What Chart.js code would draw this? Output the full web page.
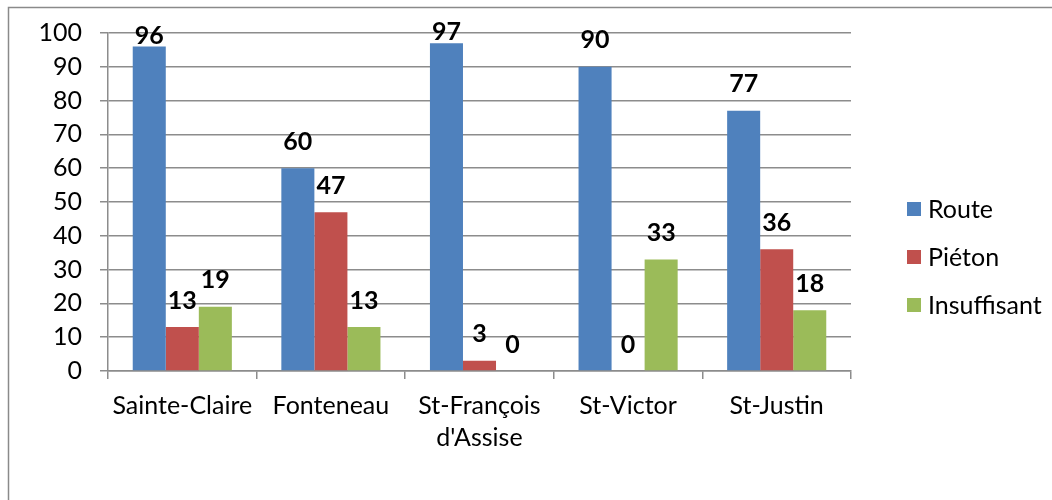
<!DOCTYPE html>
<html>
<head>
<meta charset="utf-8">
<script src="https://cdn.jsdelivr.net/npm/chart.js@4.4.0/dist/chart.umd.min.js"></script>
<style>
  html, body { margin: 0; padding: 0; background: #fff; }
  #wrap { width: 1052px; height: 500px; position: relative; }
</style>
</head>
<body>
<div id="wrap"><canvas id="graph1"></canvas></div>
<script>
// data
var categories = ["Sainte-Claire", "Fonteneau", ["St-François", "d'Assise"], "St-Victor", "St-Justin"];
var seriesNames = ["Route", "Piéton", "Insuffisant"];
var route = [96, 60, 97, 90, 77];
var pieton = [13, 47, 3, 0, 36];
var insuffisant = [19, 13, 0, 33, 18];
var colors = ['#4F81BD', '#C0504D', '#9BBB59'];

var FONT = 'Lato, "Liberation Sans", sans-serif';

// outer frame + value labels + legend
var extras = {
	id: 'extras',
	beforeDraw: function(chart) {
		var ctx = chart.ctx;
		ctx.save();
		ctx.strokeStyle = '#8a8a8a';
		ctx.lineWidth = 1.5;
		ctx.strokeRect(8.5, 7.5, 1200, 700);
		ctx.restore();
	},
	afterDatasetsDraw: function(chart) {
		var ctx = chart.ctx;
		var top = chart.chartArea.top;
		ctx.save();
		ctx.font = 'bold 25px ' + FONT;
		ctx.fillStyle = '#000';
		ctx.textAlign = 'center';
		ctx.textBaseline = 'middle';
		chart.data.datasets.forEach(function(ds, i) {
			chart.getDatasetMeta(i).data.forEach(function(bar, j) {
				var y = bar.y - 26.5;
				if (y < top) y = bar.y - 11;
				ctx.fillText(ds.data[j], bar.x, y);
			});
		});

		// legend
		ctx.font = '25px ' + FONT;
		ctx.textAlign = 'left';
		chart.data.datasets.forEach(function(ds, i) {
			var cy = 209 + i * 48;
			ctx.fillStyle = ds.backgroundColor;
			ctx.fillRect(907, cy - 7, 14, 14);
			ctx.fillStyle = '#000';
			ctx.fillText(ds.label, 928, cy + 1);
		});
		ctx.restore();
	}
};

var ctx = document.getElementById('graph1').getContext('2d');
var chart = new Chart(ctx, {
	type: 'bar',
	data: {
		labels: categories,
		datasets: [
			{ label: seriesNames[0], data: route, backgroundColor: colors[0] },
			{ label: seriesNames[1], data: pieton, backgroundColor: colors[1] },
			{ label: seriesNames[2], data: insuffisant, backgroundColor: colors[2] }
		]
	},
	options: {
		responsive: true,
		maintainAspectRatio: false,
		animation: false,
		layout: { padding: { top: 31, right: 201, bottom: 0, left: 0 } },
		datasets: { bar: { categoryPercentage: 0.667, barPercentage: 1 } },
		plugins: {
			legend: { display: false },
			tooltip: { enabled: false }
		},
		scales: {
			y: {
				min: 0,
				max: 100,
				ticks: { stepSize: 10, color: '#000', padding: 18, font: { family: FONT, size: 25 } },
				grid: { color: '#8c8c8c', lineWidth: 1.5, tickLength: 8 },
				border: { color: '#8c8c8c', width: 1.5 },
				afterFit: function(scale) { scale.width = 108; }
			},
			x: {
				ticks: { color: '#000', padding: 11, maxRotation: 0, font: { family: FONT, size: 25, lineHeight: 1.28 } },
				grid: { drawOnChartArea: false, color: '#8c8c8c', lineWidth: 1.5, tickLength: 8, offset: true },
				border: { color: '#8c8c8c', width: 1.5 },
				afterFit: function(scale) { scale.height = 129; }
			}
		}
	},
	plugins: [extras]
});
</script>
</body>
</html>
